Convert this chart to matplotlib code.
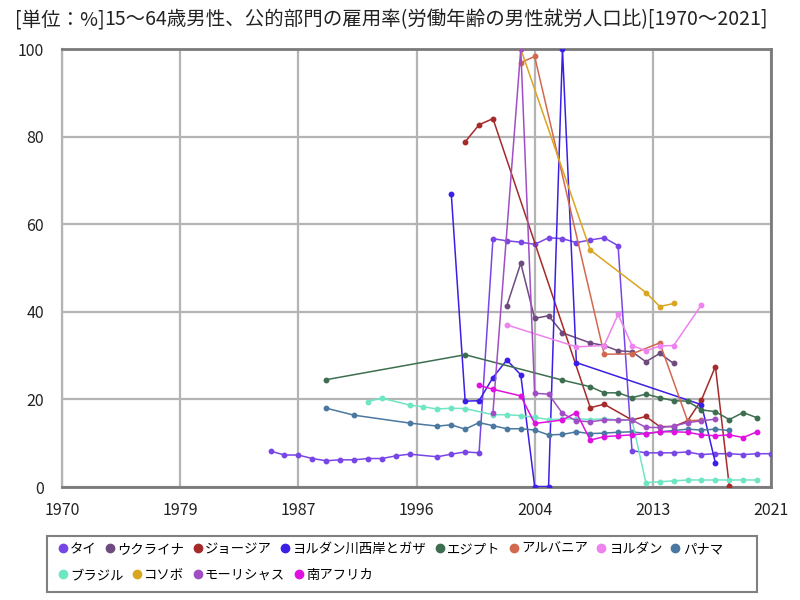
import matplotlib
matplotlib.use("Agg")
import matplotlib.pyplot as plt
from matplotlib.patches import Rectangle
from matplotlib.lines import Line2D

plt.rcParams['font.family'] = ['Noto Sans CJK JP', 'DejaVu Sans']

# ---- data ----
thai_years = list(range(1985, 1996)) + list(range(1997, 2022))
thai_vals = [8.2, 7.3, 7.3, 6.5, 6.0, 6.2, 6.2, 6.5, 6.5, 7.1, 7.5,
             6.9, 7.5, 8.0, 7.8,
             56.7, 56.2, 55.9, 55.4, 56.9, 56.7, 55.8, 56.4, 56.9, 55.1,
             8.3, 7.8, 7.8, 7.8, 8.0, 7.4, 7.6, 7.6, 7.4, 7.6, 7.6]

ukraine_years = [2002, 2003, 2004, 2005, 2006, 2008, 2009, 2010, 2011, 2012, 2013, 2014]
ukraine_vals = [41.4, 51.1, 38.5, 39.1, 35.2, 32.9, 32.3, 31.1, 30.9, 28.6, 30.5, 28.2]

georgia_years = [1999, 2000, 2001, 2008, 2009, 2011, 2012, 2013, 2014, 2015, 2016, 2017, 2018]
georgia_vals = [78.8, 82.7, 84.1, 18.1, 18.9, 15.3, 16.1, 13.8, 13.8, 15.1, 19.9, 27.5, 0.2]

wbg_years = [1998, 1999, 2000, 2001, 2002, 2003, 2004, 2005, 2006, 2007, 2016, 2017]
wbg_vals = [67.0, 19.6, 19.7, 25.0, 29.0, 25.6, 0.1, 0.1, 100.0, 28.4, 18.8, 5.5]

egypt_years = [1989, 1999, 2006, 2008, 2009, 2010, 2011, 2012, 2013, 2014, 2015, 2016,
               2017, 2018, 2019, 2020]
egypt_vals = [24.5, 30.2, 24.4, 22.9, 21.5, 21.5, 20.4, 21.2, 20.4, 19.7, 19.6, 17.6,
              17.2, 15.4, 17.0, 15.8]

albania_years = [2003, 2004, 2009, 2011, 2013, 2015, 2016]
albania_vals = [96.9, 98.3, 30.3, 30.4, 32.9, 15.1, 15.3]

jordan_years = [2002, 2007, 2009, 2010, 2011, 2012, 2013, 2014, 2016]
jordan_vals = [37.0, 32.0, 32.3, 39.4, 32.3, 31.1, 32.2, 32.3, 41.6]

panama_years = [1989, 1991, 1995, 1997, 1998, 1999, 2000, 2001, 2002, 2003, 2004, 2005,
                2006, 2007, 2008, 2009, 2010, 2011, 2012, 2013, 2014, 2015, 2016, 2017, 2018]
panama_vals = [18.0, 16.4, 14.6, 13.9, 14.2, 13.2, 14.7, 14.0, 13.3, 13.3, 13.0, 11.9,
               12.0, 12.6, 12.2, 12.3, 12.5, 12.6, 12.2, 12.6, 12.9, 13.2, 13.0, 13.2, 12.9]

brazil_years = [1992, 1993, 1995, 1996, 1997, 1998, 1999, 2001, 2002, 2003, 2004, 2005,
                2006, 2007, 2008, 2009, 2010, 2011, 2012, 2013, 2014, 2015, 2016, 2017,
                2018, 2019, 2020]
brazil_vals = [19.5, 20.3, 18.7, 18.3, 17.8, 18.0, 17.9, 16.5, 16.5, 16.3, 15.9, 15.4,
               15.5, 15.6, 15.4, 15.6, 15.3, 15.3, 1.0, 1.2, 1.4, 1.6, 1.6, 1.6,
               1.6, 1.6, 1.6]

kosovo_years = [2003, 2008, 2012, 2013, 2014]
kosovo_vals = [100.0, 54.1, 44.4, 41.2, 41.9]

mauritius_years = [2001, 2003, 2004, 2005, 2006, 2007, 2008, 2009, 2010, 2011, 2012,
                   2013, 2014, 2015, 2016, 2017]
mauritius_vals = [17.0, 100.0, 21.4, 21.2, 16.8, 15.1, 14.9, 15.3, 15.3, 15.3, 13.6,
                  13.6, 13.9, 14.7, 15.1, 15.5]

safrica_years = [2000, 2001, 2003, 2004, 2006, 2007, 2008, 2009, 2010, 2011, 2012, 2013,
                 2014, 2015, 2016, 2017, 2018, 2019, 2020]
safrica_vals = [23.2, 22.3, 20.8, 14.5, 15.3, 17.0, 10.7, 11.5, 11.7, 11.9, 12.2, 12.6,
                12.6, 12.5, 11.9, 11.7, 11.9, 11.3, 12.6]

names = ['タイ', 'ウクライナ', 'ジョージア', 'ヨルダン川西岸とガザ', 'エジプト', 'アルバニア',
         'ヨルダン', 'パナマ', 'ブラジル', 'コソボ', 'モーリシャス', '南アフリカ']
colors = ['#7846e6', '#6e4a7e', '#a52a2a', '#3a1fe6', '#3e6e50', '#d2694f',
          '#ee82ee', '#4a78a0', '#6ee6c4', '#daa520', '#a04ec4', '#e010e0']
series = [(thai_years, thai_vals), (ukraine_years, ukraine_vals),
          (georgia_years, georgia_vals), (wbg_years, wbg_vals),
          (egypt_years, egypt_vals), (albania_years, albania_vals),
          (jordan_years, jordan_vals), (panama_years, panama_vals),
          (brazil_years, brazil_vals), (kosovo_years, kosovo_vals),
          (mauritius_years, mauritius_vals), (safrica_years, safrica_vals)]

xtick_vals = [1970, 1978.5, 1987, 1995.5, 2004, 2012.5, 2021]
xtick_labels = ['1970', '1979', '1987', '1996', '2004', '2013', '2021']
ytick_vals = [0, 20, 40, 60, 80, 100]

# ---- figure ----
fig = plt.figure(figsize=(8, 6), dpi=100)
ax = fig.add_axes([62 / 800, 1 - 487 / 600, (771 - 62) / 800, (487 - 49) / 600])

for (xs, ys), c in zip(series, colors):
    ax.plot(xs, ys, color=c, lw=1.1, marker='o', ms=3.2, clip_on=True, zorder=3)

ax.set_xlim(1970, 2021)
ax.set_ylim(0, 100)
ax.set_xticks(xtick_vals)
ax.set_xticklabels(xtick_labels)
ax.set_yticks(ytick_vals)
ax.tick_params(length=0, labelsize=11.5, colors='#222222')
ax.tick_params(axis='x', pad=11)
ax.tick_params(axis='y', pad=13)
ax.grid(True, color='#b4b4b4', lw=1.6, zorder=0)
for s in ['top', 'right', 'bottom']:
    ax.spines[s].set_color('#7a7a7a')
    ax.spines[s].set_linewidth(2)
ax.spines['left'].set_color('#b4b4b4')
ax.spines['left'].set_linewidth(1.6)

# ---- title ----
fig.text(15 / 800, 1 - 20 / 600, '[単位：%]', fontsize=14, va='center', ha='left', color='#222222')
fig.text(104 / 800, 1 - 20 / 600, '15～64歳男性、公的部門の雇用率(労働年齢の男性就労人口比)[1970～2021]',
         fontsize=14, va='center', ha='left', color='#222222')

# ---- legend ----
fig.patches.append(Rectangle((47 / 800, 1 - 592 / 600), (757 - 47) / 800, (592 - 536) / 600,
                             transform=fig.transFigure, fill=False, edgecolor='#808080',
                             lw=1.5))

def handles(idx):
    return [Line2D([], [], ls='none', marker='o', ms=6, color=colors[i]) for i in idx]

row1 = list(range(8))
row2 = list(range(8, 12))
kw = dict(frameon=False, fontsize=9.6, handlelength=0.6, handletextpad=0.25,
          columnspacing=0.7, borderpad=0, loc='center left')
leg1 = fig.legend(handles(row1), [names[i] for i in row1], ncol=8,
                  bbox_to_anchor=(52 / 800, 1 - 549 / 600), **kw)
leg2 = fig.legend(handles(row2), [names[i] for i in row2], ncol=4,
                  bbox_to_anchor=(52 / 800, 1 - 575 / 600), **kw)

fig.savefig('out.png', dpi=100)
